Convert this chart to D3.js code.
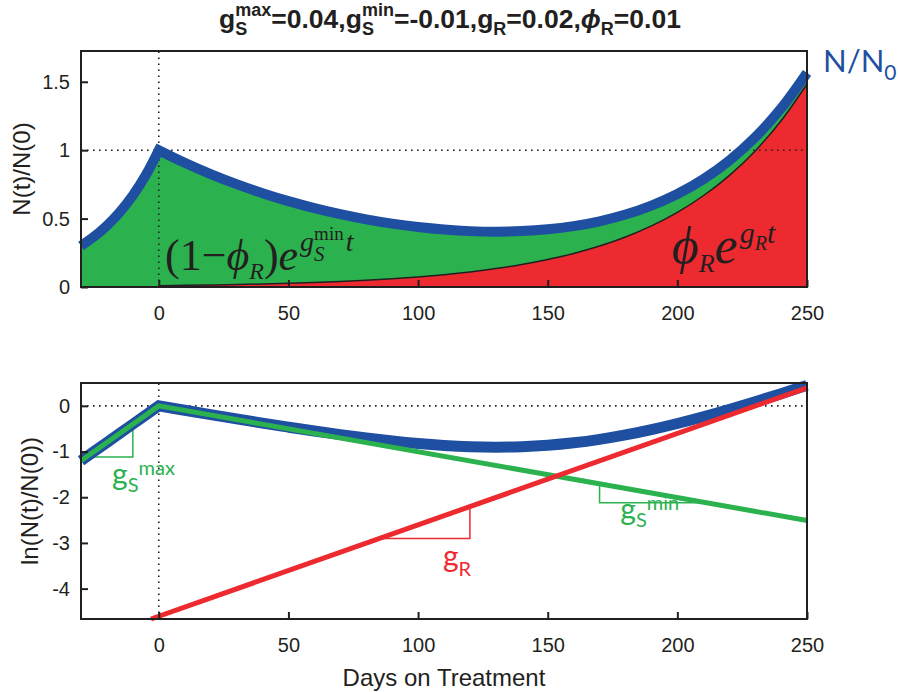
<!DOCTYPE html>
<html><head><meta charset="utf-8">
<script src="https://cdn.jsdelivr.net/npm/d3@7/dist/d3.min.js"></script>
<style>body{margin:0;background:#fff} svg{display:block}</style>
</head><body><svg id="c" width="898" height="692"></svg>
<script>
// ---- data ----
const preDays = [-30, -25, -20, -15, -10, -5, 0];
const preN    = [0.3012, 0.3679, 0.4493, 0.5488, 0.6703, 0.8187, 1.0];
const preLn   = [-1.2, -1.0, -0.8, -0.6, -0.4, -0.2, 0];
const postDays = [0,10,20,30,40,50,60,70,80,90,100,110,120,130,140,150,160,170,180,190,200,210,220,230,240,250];
const totalN  = [1.0,0.9080,0.8255,0.7516,0.6859,0.6277,0.5765,0.5322,0.4944,0.4630,0.4381,0.4198,0.4084,0.4045,0.4086,0.4218,0.4452,0.4805,0.5296,0.5951,0.6800,0.7881,0.9242,1.0941,1.3049,1.5654];
const resistN = [0.0100,0.0122,0.0149,0.0182,0.0223,0.0272,0.0332,0.0406,0.0495,0.0605,0.0739,0.0903,0.1102,0.1346,0.1645,0.2009,0.2453,0.2996,0.3660,0.4470,0.5460,0.6669,0.8145,0.9948,1.2151,1.4841];
const lnTotal = [0,-0.0965,-0.1918,-0.2855,-0.3771,-0.4658,-0.5508,-0.6308,-0.7045,-0.7700,-0.8253,-0.8680,-0.8955,-0.9052,-0.8951,-0.8633,-0.8092,-0.7329,-0.6356,-0.5191,-0.3857,-0.2381,-0.0788,0.0899,0.2661,0.4481];
const sensDays = [-30, 0, 250];
const sensLn   = [-1.2, 0, -2.51];
const resDays  = [-3, 250];
const resLn    = [-4.665, 0.395];
const xTicks = [0, 50, 100, 150, 200, 250];
const yTopTicks = [0, 0.5, 1, 1.5];
const yTopLabels = ["0", "0.5", "1", "1.5"];
const yBotTicks = [-4, -3, -2, -1, 0];
const yBotLabels = ["-4", "-3", "-2", "-1", "0"];

// ---- drawing ----
const BLUE = "#1f4fa1", GREEN = "#2bb24f", RED = "#ec2a2f", INK = "#231f20";
const svg = d3.select("#c");
const x = d3.scaleLinear().domain([-30, 250]).range([81, 807]);
const yTop = d3.scaleLinear().domain([0, 1.725]).range([287, 51]);
const yBot = d3.scaleLinear().domain([-4.665, 0.5]).range([619, 383]);
const SANS = "'Liberation Sans', Arial, Helvetica, sans-serif";
const SERIF = "'Liberation Serif', 'Times New Roman', serif";
const CAL = "Lato, 'Open Sans', sans-serif";

function rich(parent, px, py, pieces, base, anchor) {
  const g = parent.append("g");
  let cx = 0, prevStart = 0;
  pieces.forEach(p => {
    const start = p.stack ? prevStart : cx;
    const t = g.append("text").attr("x", start).attr("y", p.dy || 0).text(p.t)
      .attr("font-family", p.ff || base.ff)
      .attr("font-size", p.fs || base.fs)
      .attr("font-style", p.it ? "italic" : "normal")
      .attr("font-weight", p.fw || base.fw || "normal")
      .attr("fill", p.fill || base.fill);
    const w = t.node().getComputedTextLength();
    if (p.stack) cx = Math.max(cx, start + w);
    else { prevStart = start; cx = start + w; }
    cx += p.gap || 0;
  });
  const off = anchor === "middle" ? cx / 2 : 0;
  g.attr("transform", `translate(${px - off},${py})`);
  return g;
}

const pairs = (a, b) => a.map((d, i) => [d, b[i]]);
const join = (a, b) => a + b.replace(/^M/, "L");

// ===== top panel =====
const topG = svg.append("g");
const lineT = d3.line().x(d => x(d[0])).y(d => yTop(d[1])).curve(d3.curveCatmullRom);
const nPath = join(lineT(pairs(preDays, preN)), lineT(pairs(postDays, totalN)));
topG.append("path").attr("d", nPath + `L${x(250)},${yTop(0)}L${x(-30)},${yTop(0)}Z`).attr("fill", GREEN);
topG.append("path").attr("d", d3.area().x(d => x(d[0])).y0(yTop(0)).y1(d => yTop(d[1])).curve(d3.curveCatmullRom)(pairs(postDays, resistN))).attr("fill", RED);
topG.append("line").attr("x1", x(0)).attr("x2", x(0)).attr("y1", yTop(0)).attr("y2", yTop(1.725))
  .attr("stroke", INK).attr("stroke-width", 1.6).attr("stroke-dasharray", "1.6,4.4");
topG.append("line").attr("x1", x(-30)).attr("x2", x(250)).attr("y1", yTop(1)).attr("y2", yTop(1))
  .attr("stroke", INK).attr("stroke-width", 1.6).attr("stroke-dasharray", "1.6,4.4");
topG.append("path").attr("d", lineT(pairs(postDays, resistN))).attr("fill", "none").attr("stroke", INK).attr("stroke-width", 1.5);
topG.append("path").attr("d", nPath).attr("fill", "none").attr("stroke", BLUE).attr("stroke-width", 10).attr("stroke-linejoin", "miter");

topG.append("rect").attr("x", x(-30)).attr("y", yTop(1.725)).attr("width", x(250) - x(-30)).attr("height", yTop(0) - yTop(1.725))
  .attr("fill", "none").attr("stroke", INK).attr("stroke-width", 2);
function styleAxis(g) {
  g.select(".domain").remove();
  g.selectAll(".tick line").attr("stroke", INK).attr("stroke-width", 2);
  g.selectAll(".tick text").attr("fill", INK).attr("font-family", SANS).attr("font-size", 20);
}
topG.append("g").attr("transform", `translate(0,${yTop(0)})`)
  .call(d3.axisBottom(x).tickValues(xTicks).tickSize(-7).tickPadding(19).tickFormat(d => String(d))).call(styleAxis);
topG.append("g").attr("transform", `translate(${x(-30)},0)`)
  .call(d3.axisLeft(yTop).tickValues(yTopTicks).tickSize(-7).tickPadding(11).tickFormat((d, i) => yTopLabels[i])).call(styleAxis);
topG.append("text").attr("transform", `translate(30,${(yTop(0) + yTop(1.725)) / 2}) rotate(-90)`)
  .attr("text-anchor", "middle").attr("font-family", SANS).attr("font-size", 24).attr("fill", INK).text("N(t)/N(0)");

rich(svg, x(250) + 16, yTop(1.57), [{ t: "N/N" }, { t: "0", fs: 21, dy: 8 }], { ff: CAL, fs: 31, fill: BLUE });
rich(topG, x(2.4), yTop(0.124), [
  { t: "(1−", fs: 44 }, { t: "ϕ", fs: 44, it: true, gap: 0 }, { t: "R", fs: 24, it: true, dy: 9 },
  { t: ")", fs: 44 }, { t: "e", fs: 44, it: true, gap: 2 }, { t: "g", fs: 28, it: true, dy: -19 },
  { t: "min", fs: 19, dy: -30 }, { t: "S", fs: 21, it: true, dy: -9, stack: true, gap: 2 }, { t: "t", fs: 28, it: true, dy: -19 }
], { ff: SERIF, fs: 44, fill: INK });
rich(topG, x(197.9), yTop(0.175), [
  { t: "ϕ", fs: 52, it: true, gap: 0 }, { t: "R", fs: 26, it: true, dy: 9 }, { t: "e", fs: 52, it: true, gap: 2 },
  { t: "g", fs: 30, it: true, dy: -20 }, { t: "R", fs: 20, it: true, dy: -13 }, { t: "t", fs: 30, it: true, dy: -20 }
], { ff: SERIF, fs: 52, fill: INK });

rich(svg, 450, 28, [
  { t: "g" }, { t: "max", fs: 18, dy: -12 }, { t: "S", fs: 18, dy: 7, stack: true },
  { t: "=0.04,g" }, { t: "min", fs: 18, dy: -12 }, { t: "S", fs: 18, dy: 7, stack: true },
  { t: "=-0.01,g" }, { t: "R", fs: 18, dy: 7 }, { t: "=0.02," }, { t: "ϕ", it: true }, { t: "R", fs: 18, dy: 7 }, { t: "=0.01" }
], { ff: SANS, fs: 26.5, fw: "bold", fill: INK }, "middle");

// ===== bottom panel =====
const botG = svg.append("g");
const lineB = d3.line().x(d => x(d[0])).y(d => yBot(d[1]));
const lineBc = d3.line().x(d => x(d[0])).y(d => yBot(d[1])).curve(d3.curveCatmullRom);
botG.append("line").attr("x1", x(0)).attr("x2", x(0)).attr("y1", yBot(-4.665)).attr("y2", yBot(0.5))
  .attr("stroke", INK).attr("stroke-width", 1.6).attr("stroke-dasharray", "1.6,4.4");
botG.append("line").attr("x1", x(-30)).attr("x2", x(250)).attr("y1", yBot(0)).attr("y2", yBot(0))
  .attr("stroke", INK).attr("stroke-width", 1.6).attr("stroke-dasharray", "1.6,4.4");
botG.append("path").attr("d", lineB([[-28, -1.12], [-10, -1.12], [-10, -0.45]])).attr("fill", "none").attr("stroke", GREEN).attr("stroke-width", 1.5);
botG.append("path").attr("d", lineB([[170, -1.72], [170, -2.12], [210, -2.12]])).attr("fill", "none").attr("stroke", GREEN).attr("stroke-width", 1.5);
botG.append("path").attr("d", lineB([[85, -2.905], [120, -2.905], [120, -2.2]])).attr("fill", "none").attr("stroke", RED).attr("stroke-width", 1.5);
botG.append("path").attr("d", join(lineB(pairs(preDays, preLn)), lineBc(pairs(postDays, lnTotal))))
  .attr("fill", "none").attr("stroke", BLUE).attr("stroke-width", 11).attr("stroke-linejoin", "miter");
botG.append("path").attr("d", lineB(pairs(sensDays, sensLn))).attr("fill", "none").attr("stroke", GREEN).attr("stroke-width", 5);
botG.append("path").attr("d", lineB(pairs(resDays, resLn))).attr("fill", "none").attr("stroke", RED).attr("stroke-width", 5);

botG.append("rect").attr("x", x(-30)).attr("y", yBot(0.5)).attr("width", x(250) - x(-30)).attr("height", yBot(-4.665) - yBot(0.5))
  .attr("fill", "none").attr("stroke", INK).attr("stroke-width", 2);
botG.append("g").attr("transform", `translate(0,${yBot(-4.665)})`)
  .call(d3.axisBottom(x).tickValues(xTicks).tickSize(-7).tickPadding(19).tickFormat(d => String(d))).call(styleAxis);
botG.append("g").attr("transform", `translate(${x(-30)},0)`)
  .call(d3.axisLeft(yBot).tickValues(yBotTicks).tickSize(-7).tickPadding(11).tickFormat((d, i) => yBotLabels[i])).call(styleAxis);
botG.append("text").attr("transform", `translate(38,${(yBot(-4.665) + yBot(0.5)) / 2}) rotate(-90)`)
  .attr("text-anchor", "middle").attr("font-family", SANS).attr("font-size", 24).attr("fill", INK).text("ln(N(t)/N(0))");
botG.append("text").attr("x", (x(-30) + x(250)) / 2).attr("y", 686).attr("text-anchor", "middle")
  .attr("font-family", SANS).attr("font-size", 24).attr("fill", INK).text("Days on Treatment");

rich(botG, x(-18), yBot(-1.73), [{ t: "g" }, { t: "S", fs: 20, dy: 7 }, { t: "max", fs: 20, dy: -10 }], { ff: CAL, fs: 30, fill: GREEN });
rich(botG, x(178), yBot(-2.5), [{ t: "g" }, { t: "S", fs: 20, dy: 7 }, { t: "min", fs: 20, dy: -10 }], { ff: CAL, fs: 30, fill: GREEN });
rich(botG, x(109.6), yBot(-3.52), [{ t: "g" }, { t: "R", fs: 20, dy: 9 }], { ff: CAL, fs: 30, fill: RED });
</script></body></html>
